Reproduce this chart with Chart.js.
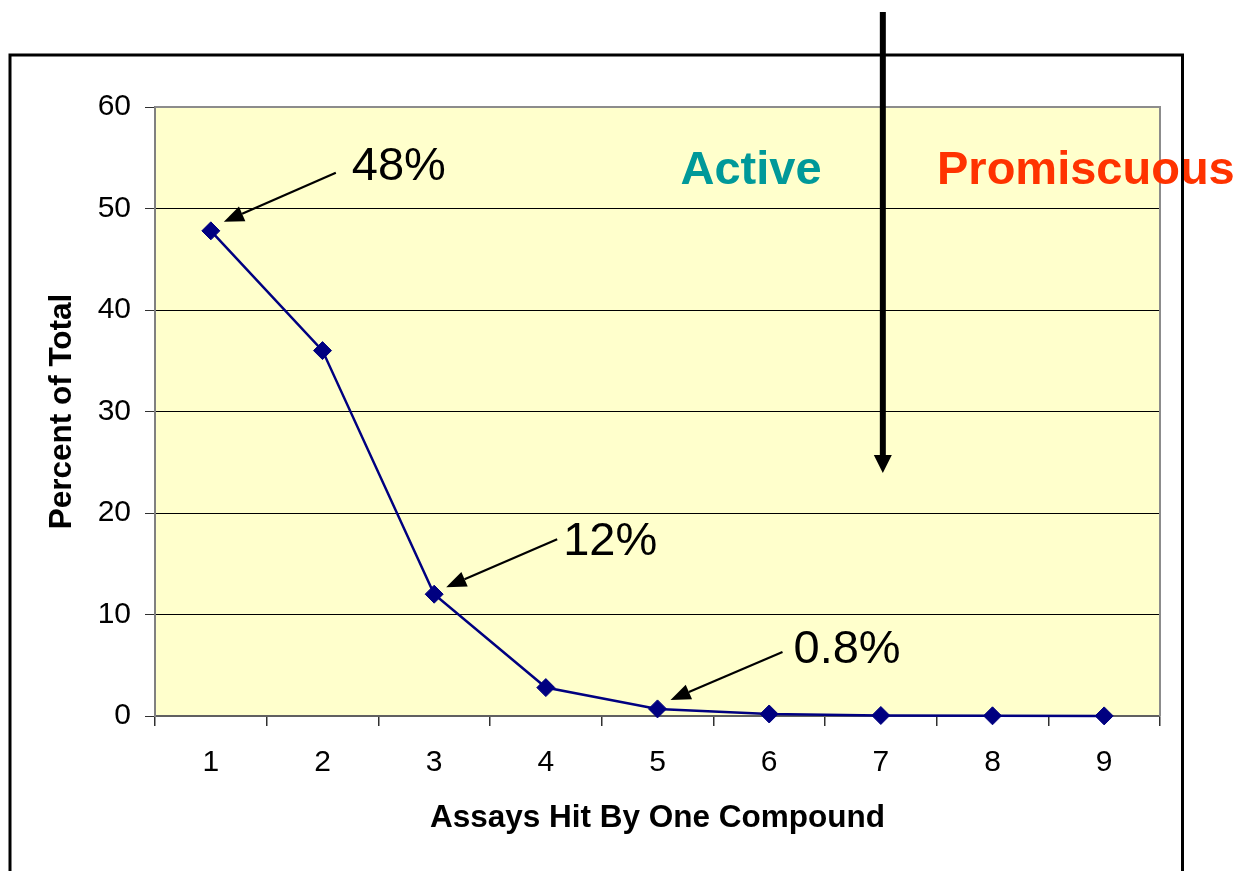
<!DOCTYPE html>
<html>
<head>
<meta charset="utf-8">
<script src="https://cdn.jsdelivr.net/npm/chart.js@4/dist/chart.umd.min.js"></script>
<style>
  html, body { margin: 0; padding: 0; background: #ffffff; }
  #wrap { width: 1240px; height: 871px; position: relative; }
</style>
</head>
<body>
<div id="wrap"><canvas id="c" width="1240" height="871"></canvas></div>
<script>
// ---- data ----
const categories = ["1", "2", "3", "4", "5", "6", "7", "8", "9"];
const percentOfTotal = [47.8, 36, 12, 2.8, 0.7, 0.2, 0.05, 0.02, 0.01];
const yTicks = [0, 10, 20, 30, 40, 50, 60];
const calloutLabels = ["48%", "12%", "0.8%"];
const calloutIndex = [0, 2, 4];
const zoneLabels = ["Active", "Promiscuous"];
const xTitle = "Assays Hit By One Compound";
const yTitle = "Percent of Total";

const FONT = "'Liberation Sans', Arial, Helvetica, sans-serif";

function arrow(ctx, x1, y1, x2, y2, lw, headLen, headHalf) {
  const ang = Math.atan2(y2 - y1, x2 - x1);
  const bx = x2 - Math.cos(ang) * headLen;
  const by = y2 - Math.sin(ang) * headLen;
  ctx.save();
  ctx.strokeStyle = '#000';
  ctx.fillStyle = '#000';
  ctx.lineWidth = lw;
  ctx.beginPath();
  ctx.moveTo(x1, y1);
  ctx.lineTo(bx, by);
  ctx.stroke();
  ctx.beginPath();
  ctx.moveTo(x2, y2);
  ctx.lineTo(bx + Math.sin(ang) * headHalf, by - Math.cos(ang) * headHalf);
  ctx.lineTo(bx - Math.sin(ang) * headHalf, by + Math.cos(ang) * headHalf);
  ctx.closePath();
  ctx.fill();
  ctx.restore();
}

const decor = {
  id: 'decor',
  beforeDraw(chart) {
    const {ctx, chartArea: a} = chart;
    ctx.save();
    ctx.fillStyle = '#FFFFCC';
    ctx.fillRect(a.left, a.top, a.right - a.left, a.bottom - a.top);
    ctx.restore();
  },
  beforeDatasetsDraw(chart) {
    const {ctx, chartArea: a} = chart;
    ctx.save();
    ctx.strokeStyle = '#8c8c8c';
    ctx.lineWidth = 2;
    ctx.beginPath();
    ctx.moveTo(a.left, a.top);
    ctx.lineTo(a.right, a.top);
    ctx.lineTo(a.right, a.bottom);
    ctx.stroke();
    ctx.restore();
  },
  afterDraw(chart) {
    const {ctx} = chart;
    const xs = chart.scales.x, ys = chart.scales.y;
    // callouts
    const offs = [
      {tip: [13, -9], tail: [125, -58], text: [141, -51]},
      {tip: [12, -7], tail: [123, -55], text: [129, -39]},
      {tip: [13, -9], tail: [125, -57], text: [136, -46]}
    ];
    ctx.save();
    ctx.font = '47px ' + FONT;
    ctx.fillStyle = '#000';
    ctx.textBaseline = 'alphabetic';
    ctx.textAlign = 'left';
    calloutLabels.forEach((lab, i) => {
      const idx = calloutIndex[i];
      const px = xs.getPixelForValue(idx);
      const py = ys.getPixelForValue(percentOfTotal[idx]);
      const o = offs[i];
      arrow(ctx, px + o.tail[0], py + o.tail[1], px + o.tip[0], py + o.tip[1], 2.2, 20, 8);
      ctx.fillText(lab, px + o.text[0], py + o.text[1]);
    });
    ctx.restore();

    // zone labels
    ctx.save();
    ctx.font = 'bold 47px ' + FONT;
    ctx.textBaseline = 'alphabetic';
    ctx.textAlign = 'center';
    ctx.fillStyle = '#009999';
    ctx.fillText(zoneLabels[0], 751, 184);
    ctx.textAlign = 'left';
    ctx.fillStyle = '#FF3300';
    ctx.fillText(zoneLabels[1], 937, 184);
    ctx.restore();

    // outer frame
    ctx.save();
    ctx.strokeStyle = '#000';
    ctx.lineWidth = 3;
    ctx.strokeRect(10, 55, 1172.5, 840);
    ctx.restore();

    // big vertical arrow
    const vx = xs.getPixelForValue(6) + 2;
    arrow(ctx, vx, 12, vx, 473, 6, 18, 9);
  }
};

new Chart(document.getElementById('c'), {
  type: 'line',
  data: {
    labels: categories,
    datasets: [{
      data: percentOfTotal,
      borderColor: '#000080',
      backgroundColor: '#000080',
      borderWidth: 2.5,
      pointStyle: 'rectRot',
      pointRadius: 9,
      pointBorderWidth: 1,
      pointBorderColor: '#000080',
      pointBackgroundColor: '#000080',
      tension: 0,
      clip: false
    }]
  },
  options: {
    responsive: false,
    animation: false,
    events: [],
    layout: { padding: { left: 0, top: 107, right: 80, bottom: 0 } },
    plugins: { legend: { display: false }, tooltip: { enabled: false }, title: { display: false } },
    scales: {
      x: {
        type: 'category',
        offset: true,
        afterFit(s) { s.height = 155; },
        grid: { offset: true, drawOnChartArea: false, tickLength: 10, color: '#303030', lineWidth: 1.5 },
        border: { color: '#606060', width: 2 },
        ticks: { color: '#000', font: { family: FONT, size: 30 }, padding: 19, maxRotation: 0 },
        title: { display: true, text: xTitle, color: '#000', font: { family: FONT, size: 31.5, weight: 'bold' }, padding: { top: 0, bottom: 34 } }
      },
      y: {
        min: 0, max: 60,
        afterFit(s) { s.width = 155; },
        afterBuildTicks(s) { s.ticks = yTicks.map(v => ({ value: v })); },
        grid: {
          tickLength: 10,
          lineWidth: 1,
          color: (c) => (c.tick && c.tick.value === 60 ? '#8c8c8c' : '#000'),
          tickColor: '#303030'
        },
        border: { color: '#808080', width: 2 },
        ticks: { color: '#000', font: { family: FONT, size: 30 }, padding: 14 },
        title: { display: true, text: yTitle, color: '#000', font: { family: FONT, size: 31.5, weight: 'bold' }, padding: { top: 43, bottom: 0 } }
      }
    }
  },
  plugins: [decor]
});
</script>
</body>
</html>
